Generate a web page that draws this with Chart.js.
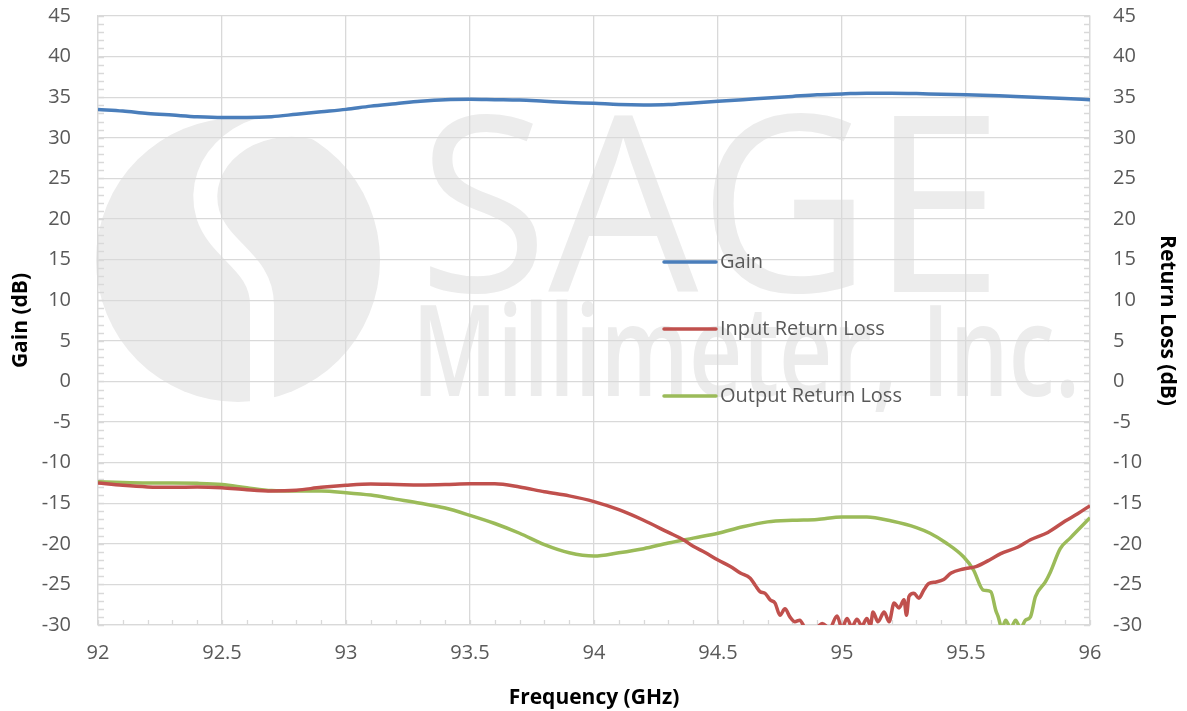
<!DOCTYPE html>
<html>
<head>
<meta charset="utf-8">
<script src="https://cdn.jsdelivr.net/npm/chart.js@4.4.0/dist/chart.umd.min.js"></script>
<style>
  html, body { margin: 0; padding: 0; background: #fff; }
  #wrap { width: 1187px; height: 711px; }
</style>
</head>
<body>
<div id="wrap"><canvas id="ampChart"></canvas></div>
<script>
// Gain (dB) vs frequency
const gainFreq = [92.0, 92.1, 92.2, 92.3, 92.4, 92.5, 92.6, 92.7, 92.8, 92.9,
  93.0, 93.1, 93.2, 93.3, 93.4, 93.5, 93.6, 93.7, 93.8, 93.9,
  94.0, 94.1, 94.2, 94.3, 94.4, 94.5, 94.6, 94.7, 94.8, 94.9,
  95.0, 95.1, 95.2, 95.3, 95.4, 95.5, 95.6, 95.7, 95.8, 95.9, 96.0];
const gainDb = [33.5, 33.3, 33.0, 32.8, 32.6, 32.5, 32.5, 32.6, 32.9, 33.2,
  33.5, 33.9, 34.2, 34.5, 34.7, 34.75, 34.7, 34.65, 34.5, 34.35,
  34.25, 34.1, 34.05, 34.1, 34.3, 34.5, 34.7, 34.9, 35.1, 35.3,
  35.4, 35.5, 35.5, 35.45, 35.35, 35.3, 35.2, 35.1, 34.95, 34.85, 34.7];

// Input return loss (dB)
const inputFreq = [92.0, 92.1, 92.2, 92.3, 92.4, 92.5, 92.6, 92.7, 92.8, 92.9,
  93.0, 93.1, 93.2, 93.3, 93.4, 93.5, 93.6, 93.7, 93.8, 93.9,
  94.0, 94.1, 94.2, 94.3, 94.36, 94.4, 94.45, 94.5, 94.55, 94.59,
  94.63, 94.65, 94.67, 94.69, 94.71, 94.73, 94.75, 94.77, 94.79, 94.81,
  94.83, 94.85, 94.88, 94.9, 94.92, 94.95, 94.98, 95.0, 95.02, 95.04,
  95.06, 95.08, 95.1, 95.115, 95.125, 95.145, 95.17, 95.19, 95.21, 95.23,
  95.25, 95.26, 95.27, 95.29, 95.31, 95.33, 95.35, 95.38, 95.41, 95.44,
  95.49, 95.54, 95.6, 95.64, 95.71, 95.76, 95.83, 95.9, 95.95, 96.0];
const inputRl = [-12.5, -12.8, -13.0, -13.05, -13.0, -13.1, -13.35, -13.5, -13.4, -13.05,
  -12.8, -12.65, -12.7, -12.75, -12.7, -12.6, -12.6, -13.0, -13.6, -14.1,
  -14.8, -15.8, -17.1, -18.6, -19.5, -20.3, -21.1, -22.0, -22.8, -23.6,
  -24.25, -25.1, -25.9, -26.1, -26.9, -27.3, -28.8, -28.0, -29.0, -29.6,
  -29.4, -30.3, -30.5, -30.3, -29.8, -30.4, -28.9, -30.4, -29.2, -30.2,
  -29.3, -30.1, -29.2, -30.0, -28.4, -29.6, -28.4, -29.6, -27.3, -27.9,
  -26.9, -28.8, -26.5, -26.1, -26.7, -25.7, -24.9, -24.7, -24.4, -23.6,
  -23.1, -22.8, -21.9, -21.2, -20.4, -19.5, -18.6, -17.2, -16.3, -15.3];

// Output return loss (dB)
const outputFreq = [92.0, 92.1, 92.2, 92.3, 92.4, 92.5, 92.6, 92.7, 92.8, 92.9,
  93.0, 93.1, 93.2, 93.3, 93.4, 93.5, 93.6, 93.7, 93.8, 93.9,
  94.0, 94.1, 94.2, 94.3, 94.4, 94.5, 94.6, 94.7, 94.8, 94.9,
  95.0, 95.1, 95.2, 95.3, 95.355, 95.42, 95.49, 95.53, 95.57, 95.6,
  95.62, 95.63, 95.645, 95.66, 95.68, 95.7, 95.72, 95.74, 95.76, 95.78,
  95.82, 95.84, 95.88, 95.92, 96.0];
const outputRl = [-12.35, -12.45, -12.5, -12.5, -12.55, -12.7, -13.1, -13.45, -13.5, -13.5,
  -13.7, -14.0, -14.5, -15.0, -15.6, -16.5, -17.5, -18.7, -20.1, -21.1,
  -21.5, -21.1, -20.6, -19.9, -19.3, -18.7, -17.9, -17.3, -17.1, -17.0,
  -16.7, -16.7, -17.2, -18.0, -18.7, -19.9, -21.6, -23.2, -25.7, -25.9,
  -28.2, -29.0, -30.4, -29.4, -30.4, -29.4, -30.4, -29.4, -29.0, -26.5,
  -24.7, -23.5, -20.6, -19.3, -16.8];

// Tick labels
const freqTicks = [92, 92.5, 93, 93.5, 94, 94.5, 95, 95.5, 96];
const dbTicks = [-30, -25, -20, -15, -10, -5, 0, 5, 10, 15, 20, 25, 30, 35, 40, 45];

const toPoints = (xs, ys) => xs.map((x, i) => ({ x: x, y: ys[i] }));

const GRID = '#d9d9d9';
const TEXT = '#595959';
const FONT = "'Open Sans', 'Liberation Sans', sans-serif";

// Logo-Wasserzeichen im Hintergrund
const watermark = {
  id: 'watermark',
  beforeDraw(chart) {
    const ctx = chart.ctx;
    ctx.save();
    ctx.fillStyle = '#ececec';
    ctx.beginPath();
    ctx.arc(238, 260, 142, 0, Math.PI * 2);
    ctx.fill();
    ctx.strokeStyle = '#ffffff';
    ctx.lineWidth = 24;
    ctx.beginPath();
    ctx.moveTo(318, 128);
    ctx.bezierCurveTo(250, 112, 192, 160, 208, 215);
    ctx.bezierCurveTo(220, 252, 262, 262, 262, 305);
    ctx.lineTo(262, 410);
    ctx.stroke();
    ctx.fillStyle = '#ececec';
    ctx.textBaseline = 'alphabetic';
    ctx.font = "400 245px 'Open Sans', sans-serif";
    ctx.fillText('SAGE', 418, 292, 585);
    ctx.font = "600 126px 'Open Sans', sans-serif";
    ctx.fillText('Millimeter, Inc.', 412, 396, 668);
    ctx.restore();
  }
};

// Kleine Teilstriche (innen) auf allen Achsen
const minorTicks = {
  id: 'minorTicks',
  beforeDatasetsDraw(chart) {
    const { ctx, chartArea, scales } = chart;
    ctx.save();
    ctx.strokeStyle = GRID;
    ctx.lineWidth = 1.3;
    ctx.beginPath();
    for (let v = -30; v <= 45; v++) {
      const y = Math.round(scales.y.getPixelForValue(v)) + 0.5;
      ctx.moveTo(chartArea.left, y);
      ctx.lineTo(chartArea.left + 6, y);
      ctx.moveTo(chartArea.right, y);
      ctx.lineTo(chartArea.right - 6, y);
    }
    for (let i = 0; i <= 40; i++) {
      const x = Math.round(scales.x.getPixelForValue(92 + i / 10)) + 0.5;
      ctx.moveTo(x, chartArea.bottom);
      ctx.lineTo(x, chartArea.bottom - 5);
    }
    ctx.stroke();
    ctx.restore();
  }
};

// Legende innerhalb der Zeichenfläche
const innerLegend = {
  id: 'innerLegend',
  afterDraw(chart) {
    const ctx = chart.ctx;
    ctx.save();
    ctx.font = '20px ' + FONT;
    ctx.textBaseline = 'middle';
    chart.data.datasets.forEach((ds, i) => {
      const y = 262 + i * 67;
      ctx.strokeStyle = ds.borderColor;
      ctx.lineWidth = 3.5;
      ctx.lineCap = 'round';
      ctx.beginPath();
      ctx.moveTo(664, y);
      ctx.lineTo(716, y);
      ctx.stroke();
      ctx.fillStyle = TEXT;
      ctx.fillText(ds.label, 720, y);
    });
    ctx.restore();
  }
};

const useTicks = (list) => (scale) => {
  scale.ticks = list.map(v => ({ value: v }));
};

const fixWidth = (w) => (s) => {
  s.width = w;
  s.paddingTop = 0;
  s.paddingBottom = 0;
};

const config = {
  type: 'line',
  data: {
    datasets: [{
      label: 'Gain',
      data: toPoints(gainFreq, gainDb),
      borderColor: '#4a7ebb',
      yAxisID: 'y'
    }, {
      label: 'Input Return Loss',
      data: toPoints(inputFreq, inputRl),
      borderColor: '#c0504d',
      yAxisID: 'y2'
    }, {
      label: 'Output Return Loss',
      data: toPoints(outputFreq, outputRl),
      borderColor: '#9bbb59',
      yAxisID: 'y2'
    }]
  },
  options: {
    responsive: true,
    maintainAspectRatio: false,
    animation: false,
    layout: { padding: { top: 16, left: 0, right: 0, bottom: 0 } },
    elements: {
      point: { radius: 0 },
      line: { borderWidth: 3.5, cubicInterpolationMode: 'monotone' }
    },
    datasets: { line: { clip: 0 } },
    plugins: {
      legend: { display: false },
      tooltip: { enabled: false }
    },
    scales: {
      x: {
        type: 'linear',
        min: 92,
        max: 96,
        afterBuildTicks: useTicks(freqTicks),
        afterFit: (s) => { s.height = 86; s.paddingLeft = 0; s.paddingRight = 0; },
        grid: { color: GRID, lineWidth: 1.3, drawTicks: false },
        border: { color: GRID, width: 1.3 },
        ticks: {
          padding: 16,
          color: TEXT,
          font: { family: FONT, size: 20 },
          callback: (v) => String(v)
        },
        title: {
          display: true,
          text: 'Frequency (GHz)',
          color: '#000',
          font: { family: FONT, size: 21, weight: 'bold' },
          padding: { top: 6, bottom: 0 }
        }
      },
      y: {
        position: 'left',
        min: -30,
        max: 45,
        afterBuildTicks: useTicks(dbTicks),
        afterFit: fixWidth(98),
        grid: { color: GRID, lineWidth: 1.3, drawTicks: false },
        border: { color: GRID, width: 1.3 },
        ticks: {
          padding: 27,
          color: TEXT,
          font: { family: FONT, size: 20 }
        },
        title: {
          display: true,
          text: 'Gain (dB)',
          color: '#000',
          font: { family: FONT, size: 21, weight: 'bold' },
          padding: { top: 8, bottom: 0 }
        }
      },
      y2: {
        position: 'right',
        min: -30,
        max: 45,
        afterBuildTicks: useTicks(dbTicks),
        afterFit: fixWidth(97),
        grid: { drawOnChartArea: false, drawTicks: false },
        border: { color: GRID, width: 1.3 },
        ticks: {
          padding: 23,
          color: TEXT,
          font: { family: FONT, size: 20 }
        },
        title: {
          display: true,
          text: 'Return Loss (dB)',
          color: '#000',
          font: { family: FONT, size: 21, weight: 'bold' },
          padding: { top: 7, bottom: 0 }
        }
      }
    }
  },
  plugins: [watermark, minorTicks, innerLegend]
};

window.addEventListener('load', () => {
  const ctx = document.getElementById('ampChart').getContext('2d');
  new Chart(ctx, config);
});
</script>
</body>
</html>
